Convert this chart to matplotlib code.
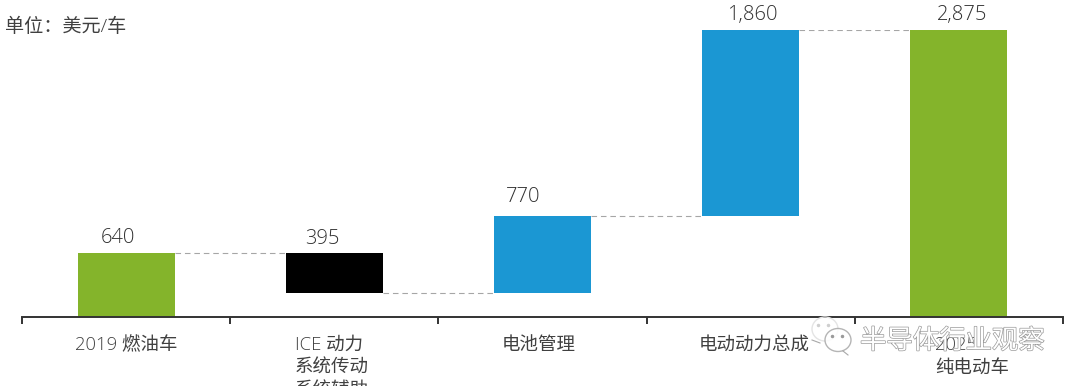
import matplotlib
matplotlib.use('Agg')
import matplotlib.pyplot as plt
from matplotlib.patches import Ellipse
import matplotlib.patheffects as pe

plt.rcParams['font.family'] = ['Open Sans', 'Noto Sans CJK SC', 'DejaVu Sans']

categories = ['2019 燃油车', 'ICE 动力\n系统传动\n系统辅助', '电池管理', '电动动力总成', '2025\n纯电动车']
values = [640, 395, 770, 1860, 2875]
bottoms = [0, 245, 245, 1015, 0]
colors = ['#84b42b', '#000000', '#1b97d3', '#1b97d3', '#84b42b']
connectors = [640, 245, 1015, 2875]

# hand placed in the source, pixels
value_dx = [-8, -12, -19, 2, 3]
value_dy = [15, 14, 19, 15, 15]
label_left = [75, 295, 502, 699, 935]

W, H = 1080, 386
fig = plt.figure(figsize=(W / 100, H / 100), dpi=100)
ax = fig.add_axes([22 / W, (H - 317) / H, (1063 - 22) / W, 287 / H])

x = list(range(len(values)))
width = 0.465
ax.bar(x, values, width=width, bottom=bottoms, color=colors, zorder=2)

for i, c in enumerate(connectors):
    ax.plot([i + width / 2, i + 1 - width / 2], [c, c], color='#a6a6a6', lw=0.8,
            ls=(0, (5, 3.5)), zorder=1)

for i, v in enumerate(values):
    ax.annotate(f'{v:,}', (i, bottoms[i] + v), xytext=(value_dx[i] * 0.72, value_dy[i] * 0.72),
                textcoords='offset points', ha='center', va='center', fontsize=14.5,
                color='#303030', fontweight='light', annotation_clip=False)

ax.set_xlim(-0.5, 4.5)
ax.set_ylim(0, 2875)
ax.set_yticks([])
ax.set_xticks([i - 0.5 for i in range(6)])
ax.set_xticklabels([])
ax.tick_params(axis='x', length=5, width=1.4, color='#333333', direction='out')
for s in ['top', 'left', 'right']:
    ax.spines[s].set_visible(False)
ax.spines['bottom'].set_linewidth(1.4)
ax.spines['bottom'].set_color('#333333')

# category labels sit under the axis, the third line of the second one runs off the page
for i, lab in enumerate(categories):
    fig.text(label_left[i] / W, 1 - 336 / H, lab, ha='left', va='top', fontsize=13.3,
             color='#404040', linespacing=1.36, fontweight='light')

fig.text(5 / W, 1 - 27 / H, '单位：美元/车', ha='left', va='center', fontsize=13.8,
         color='#404040', fontweight='light')

# watermark
wm = fig.text(860 / W, 1 - 341 / H, '半导体行业观察', ha='left', va='center', fontsize=19,
              family=['Noto Sans CJK SC'], color='#ffffff', zorder=10)
wm.set_path_effects([pe.Stroke(linewidth=1.0, foreground='#9a9a9a'), pe.Normal()])
over = fig.add_axes([0, 0, 1, 1], facecolor='none')
over.set_xlim(0, W)
over.set_ylim(H, 0)
over.axis('off')
over.add_patch(Ellipse((825, 329), 26, 24, fc='none', ec='#e4e4e4', lw=1))
over.add_patch(Ellipse((838, 340), 26, 23, fc='#ffffff', ec='#a8a8a8', lw=1, alpha=0.85))
over.plot([812, 820], [340, 343], color='#a8a8a8', lw=0.8)
over.plot([843, 848], [351, 355], color='#a8a8a8', lw=0.8)
over.plot([832, 842], [336, 336], ls='none', marker='o', ms=1.5, color='#9a9a9a')
over.plot([818, 828], [325, 325], ls='none', marker='o', ms=1.5, color='#cfcfcf')

fig.savefig('out.png', dpi=100)
